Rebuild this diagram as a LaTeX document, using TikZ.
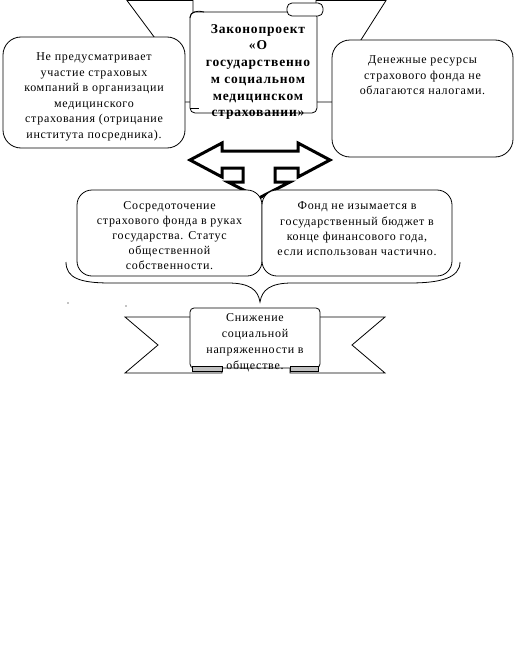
\documentclass[tikz,border=0pt]{standalone}
\usepackage{fontspec}
\setmainfont{Liberation Serif}[LetterSpace=6]
\usetikzlibrary{positioning, calc}
\definecolor{curl}{HTML}{C0C0C0}

\begin{document}
\begin{tikzpicture}[x=1pt, y=-1pt, line width=0.8pt,
          t/.style={align=center, inner sep=0pt, font=\fontsize{12}{15.5}\selectfont},
          rb/.style={draw, fill=white, rounded corners=18pt},
          rib/.style={draw, fill=white, line join=miter}]
        \useasboundingbox (0,0) rectangle (517,653);
        % верхняя лента и свиток
        \draw[rib] (127,0.5) -- (193,0.5) -- (193,102) -- (140,102) -- (175,65) -- cycle;
        \draw[rib] (386,0.5) -- (316,0.5) -- (316,102) -- (380,102) -- (345,65) -- cycle;
        \draw[rib, rounded corners=5pt] (190,12) rectangle (317,113);
        \draw[rib, rounded corners=5pt] (287,3) rectangle (323,16);
        \draw (190,18) .. controls (190,12) and (196,10) .. (204,12);
        \draw (190,108) -- (199,108);
        \node[t, font=\bfseries\fontsize{13.5}{16.7}\selectfont] (zak) at (258,72)
          {Законопроект\\«О\\государственно\\м социальном\\медицинском\\страховании»};
        % боковые блоки
        \node[rb, minimum width=182pt, minimum height=111pt] (posr) at (94,92.5) {};
        \node[t] (posrT) at (94,97) {Не предусматривает\\участие страховых\\компаний в организации\\медицинского\\страхования (отрицание\\института посредника).};
        \node[rb, minimum width=181pt, minimum height=117pt] (nalog) at (422.5,98.5) {};
        \node[t] (nalogT) at (422.5,75.5) {Денежные ресурсы\\страхового фонда не\\облагаются налогами.};
        % стрелка
        \draw[line width=3pt, fill=white, line join=miter]
          (190,160) -- (222,143) -- (222,151) -- (298,151) -- (298,143) -- (330,160)
          -- (298,177) -- (298,168) -- (275,168) -- (275,182) -- (290,182) -- (259,198)
          -- (228,182) -- (243,182) -- (243,168) -- (222,168) -- (222,177) -- cycle;
        % средний ряд
        \node[rb, rounded corners=15pt, minimum width=185pt, minimum height=86pt] (sosr) at (169.5,233) {};
        \node[rb, rounded corners=15pt, minimum width=190pt, minimum height=86pt] (fond) at (357,233) {};
        \node[t, font=\fontsize{12}{15}\selectfont] (sosrT) at (169.5,236) {Сосредоточение\\страхового фонда в руках\\государства. Статус\\общественной\\собственности.};
        \node[t, font=\fontsize{12}{15.3}\selectfont] (fondT) at (357,229) {Фонд не изымается в\\государственный бюджет в\\конце финансового года,\\если использован частично.};
        % скобка
        \draw (66,262) .. controls (66,278) and (80,283) .. (110,283) -- (228,283)
          .. controls (250,283) and (258,290) .. (260,302)
          .. controls (262,290) and (270,283) .. (292,283) -- (410,283)
          .. controls (440,283) and (460,278) .. (460,262);
        \fill (68,303) circle (0.7);
        \fill (126,306) circle (0.7);
        % нижняя лента
        \draw[rib] (192,317) -- (125,317) -- (158,345) -- (125,373) -- (222,373) -- (222,366);
        \draw[rib] (318,317) -- (385,317) -- (352,345) -- (385,373) -- (290,373) -- (290,366);
        \draw[rib, rounded corners=4pt] (190,308) rectangle (320,368);
        \draw[fill=curl] (192,366) rectangle (222,371);
        \draw[fill=curl] (290,366) rectangle (318,371);
        \node[t, font=\fontsize{12}{16}\selectfont] (snizh) at (255,343) {Снижение\\социальной\\напряженности в\\обществе.};
      \end{tikzpicture}
\end{document}
